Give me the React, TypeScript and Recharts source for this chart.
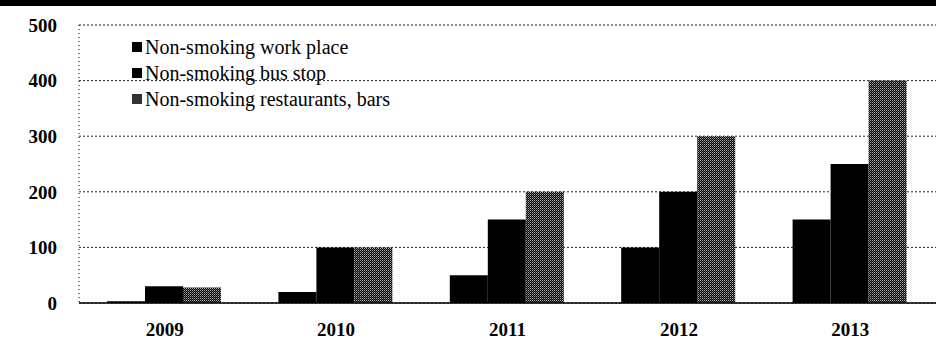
import React from 'react';
import { BarChart, Bar, XAxis, YAxis, CartesianGrid } from 'recharts';

const years = ['2009', '2010', '2011', '2012', '2013'];
const workPlace = [3, 20, 50, 100, 150];
const busStop = [30, 100, 150, 200, 250];
const restaurants = [28, 100, 200, 300, 400];
const yTicks = [0, 100, 200, 300, 400, 500];
const seriesNames = ['Non-smoking work place', 'Non-smoking bus stop', 'Non-smoking restaurants, bars'];

const data = years.map((y, i) => ({
  year: y,
  work: workPlace[i],
  bus: busStop[i],
  rest: restaurants[i],
}));

const font = "'Liberation Serif', 'Times New Roman', Times, serif";

export default function App() {
  return (
    <div style={{ position: 'fixed', left: 0, top: 0, width: 936, height: 353, background: '#fff', overflow: 'hidden' }}>
      <div style={{ position: 'absolute', left: 0, top: 0, width: 936, height: 6, background: '#000' }} />
      <BarChart
        width={936}
        height={353}
        data={data}
        margin={{ top: 25, right: 0, bottom: 20, left: 0 }}
        barCategoryGap={28}
        barGap={0}
      >
        <defs>
          <pattern id="dither" width="2" height="2" patternUnits="userSpaceOnUse">
            <rect width="2" height="2" fill="#000" />
            <rect x="0" y="0" width="1" height="1" fill="#aaa" />
            <rect x="1" y="1" width="1" height="1" fill="#555" />
          </pattern>
        </defs>
        <CartesianGrid vertical={false} stroke="#222" strokeDasharray="2 2" />
        <XAxis
          dataKey="year"
          height={30}
          tickLine={false}
          axisLine={{ stroke: '#000', strokeWidth: 1.5 }}
          tickMargin={14}
          tick={{ fill: '#000', fontFamily: font, fontSize: 19, fontWeight: 'bold' }}
        />
        <YAxis
          width={79}
          domain={[0, 500]}
          ticks={yTicks}
          tickLine={false}
          tickSize={0}
          tickMargin={22}
          axisLine={{ stroke: '#000', strokeDasharray: '1 3' }}
          tick={{ fill: '#000', fontFamily: font, fontSize: 19, fontWeight: 'bold' }}
        />
        <Bar dataKey="work" name={seriesNames[0]} fill="#000" isAnimationActive={false} />
        <Bar dataKey="bus" name={seriesNames[1]} fill="#000" isAnimationActive={false} />
        <Bar dataKey="rest" name={seriesNames[2]} fill="url(#dither)" isAnimationActive={false} />
      </BarChart>
      <div style={{ position: 'absolute', left: 132, top: 34, fontFamily: font, fontSize: 20, color: '#000', lineHeight: '26px' }}>
        {seriesNames.map((n, i) => (
          <div key={n} style={{ display: 'flex', alignItems: 'center' }}>
            <span style={{ display: 'inline-block', width: 10, height: 10, background: i === 2 ? '#333' : '#000', marginRight: 3 }} />
            <span>{n}</span>
          </div>
        ))}
      </div>
    </div>
  );
}
